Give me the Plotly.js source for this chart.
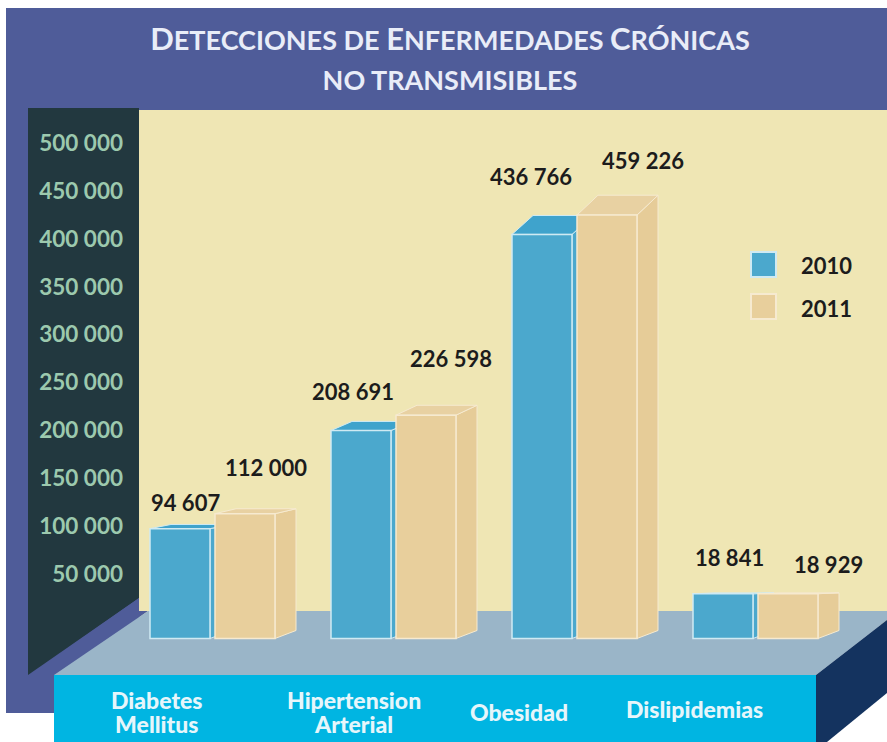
<!DOCTYPE html>
<html><head><meta charset="utf-8">
<script src="https://cdn.plot.ly/plotly-3.0.1.min.js"></script>
<style>html,body{margin:0;padding:0;background:#fff}#c{width:887px;height:742px}</style></head>
<body><div id="c"></div>
<script>
const categories = ["Diabetes Mellitus","Hipertension Arterial","Obesidad","Dislipidemias"];
const categoryLabels = [["Diabetes","Mellitus"],["Hipertension","Arterial"],["Obesidad"],["Dislipidemias"]];
const values2010 = [94607,208691,436766,18841];
const values2011 = [112000,226598,459226,18929];
const labels2010 = ["94 607","208 691","436 766","18 841"];
const labels2011 = ["112 000","226 598","459 226","18 929"];
const axisTicks = [50000,100000,150000,200000,250000,300000,350000,400000,450000,500000];
const axisTickText = ["50 000","100 000","150 000","200 000","250 000","300 000","350 000","400 000","450 000","500 000"];

const W=887,H=742;
const STEP=181, C0=213;             // px of category spacing and first centre
const cat=px=>(px-C0)/STEP;         // px -> category axis units
const xRange=[cat(0),cat(W)];
// printed axis: 500 000 at y=143, 50 000 at y=574
const k1=431/450000, z1=574+50000*k1;
const yRange=[(z1-H)/k1,z1/k1];
// bars follow their own scale, as in the artwork
const k2=0.86/1000, z2=610;
const y2Range=[(z2-H)/k2,z2/k2];
const floorFront=(z2-638.5)/k2;
const floorBack=floorFront+8/k2;
const OFF=[-63,2], BW=60, DX=21;

const PX=(x,y)=>`${x/W} ${1-y/H}`;
const poly=(pts,fill,edge)=>({type:'path',xref:'paper',yref:'paper',layer:'below',
  path:'M'+pts.map(p=>PX(p[0],p[1])).join('L')+'Z',fillcolor:fill,line:edge?{color:edge,width:2}:{width:0}});

const PANEL='#4f5c99';
const bg=[
  poly([[6,8],[887,8],[887,110],[6,110]],PANEL),
  poly([[6,8],[139,8],[139,713],[6,713]],PANEL),
  poly([[139,110],[887,110],[887,625],[139,625]],'#efe6b4'),
  poly([[28,108],[139,108],[139,598],[28,675]],'#22383f'),
  poly([[139,598],[139,611],[148,611],[57,676],[28,676]],PANEL),
  poly([[148,611],[887,611],[887,620],[816,675],[54,675]],'#9ab5c8'),
  poly([[54,675],[816,675],[816,742],[54,742]],'#00b5e2'),
  poly([[816,675],[887,620],[887,693],[827,742],[816,742]],'#14335f'),
  poly([[751,252],[776,252],[776,277],[751,277]],'#4ba8cd','#cfeaf3'),
  poly([[751,294],[776,294],[776,319],[751,319]],'#e8cf9c','#f6ead0')
];

function box3d(i,v,k,sideCol,topCol,edge){
  const x0=cat(C0+STEP*i+OFF[k]), x1=x0+BW/STEP, d=DX/STEP;
  const back=v*1.05+116;
  const dataPoly=(pts,fill)=>({type:'path',xref:'x',yref:'y2',layer:'below',
    path:'M'+pts.map(p=>p[0]+' '+p[1]).join('L')+'Z',fillcolor:fill,line:{color:edge,width:1}});
  return [
    dataPoly([[x1,floorFront],[x1+d,floorBack],[x1+d,back],[x1,v]],sideCol),
    dataPoly([[x0,v],[x0+d,back],[x1+d,back],[x1,v]],topCol)
  ];
}
const boxes=[];
values2010.forEach((v,i)=>boxes.push(...box3d(i,v,0,'#4ba8cd','#3fa3cc','#cfeaf3')));
values2011.forEach((v,i)=>boxes.push(...box3d(i,v,1,'#e6cc98','#e8d1a2','#f6ead0')));

const txt=(x,y,text,size,color,extra)=>Object.assign({xref:'paper',yref:'paper',x:x/W,y:1-y/H,text,
  showarrow:false,xanchor:'center',yanchor:'middle',font:{family:'Lato, sans-serif',size,color,weight:700}},extra||{});
const span=(s,t)=>`<span style="font-size:${s}px">${t}</span>`;

const pos2010=[[185,502],[353,391],[531,176],[729,557]];
const pos2011=[[266,467],[451,358],[643,160],[828,564]];
const catPos=[[157,712],[354,712],[519,712],[694,709]];
const ann=[];
labels2010.forEach((t,i)=>ann.push(txt(pos2010[i][0],pos2010[i][1],t,22,'#1c1c1c')));
labels2011.forEach((t,i)=>ann.push(txt(pos2011[i][0],pos2011[i][1],t,22,'#1c1c1c')));
categoryLabels.forEach((t,i)=>{
  const a=txt(catPos[i][0],catPos[i][1],t.map(s=>span(23,s)).join('<br>'),18.5,'#e6f6fb');
  a.font.weight=900; ann.push(a);
});
ann.push(txt(826,265,'2010',22,'#1c1c1c'));
ann.push(txt(826,308,'2011',22,'#1c1c1c'));

const bars=(vals,k,col,edge,name)=>({type:'bar',name,x:categories,
  y:vals.map(v=>v-floorFront),base:floorFront,xaxis:'x',yaxis:'y2',
  width:BW/STEP,offset:OFF[k]/STEP,marker:{color:col,line:{color:edge,width:1.5}},
  customdata:vals,hovertemplate:'%{x}: %{customdata}<extra>'+name+'</extra>'});
// keeps the printed value axis in the plot: it needs a trace of its own to be drawn
const axisHolder={type:'scatter',mode:'markers',x:[categories[0]],y:[axisTicks[0]],xaxis:'x',yaxis:'y',
  marker:{opacity:0},hoverinfo:'skip',showlegend:false};

const caps=(big,small)=>big+span(27,small);
const titleText=caps('D','ETECCIONES DE ')+caps('E','NFERMEDADES ')+caps('C','RÓNICAS')+'<br>'+span(27,'NO TRANSMISIBLES');

Plotly.newPlot('c',[axisHolder,bars(values2010,0,'#4ba8cd','#cfeaf3','2010'),bars(values2011,1,'#e8cf9c','#f6ead0','2011')],{
  width:W,height:H,margin:{l:0,r:0,t:0,b:0,pad:0},autosize:false,
  paper_bgcolor:'#ffffff',plot_bgcolor:'rgba(0,0,0,0)',showlegend:false,barmode:'overlay',
  title:{text:titleText,x:450/W,xanchor:'center',y:1-50/H,yanchor:'top',font:{family:'Lato, sans-serif',size:31,color:'#e9edf8',weight:700}},
  xaxis:{type:'category',categoryorder:'array',categoryarray:categories,range:xRange,visible:false,domain:[0,1]},
  yaxis:{range:yRange,domain:[0,1],anchor:'free',position:123/W,side:'left',tickmode:'array',tickvals:axisTicks,ticktext:axisTickText,
    tickfont:{family:'Lato, sans-serif',size:22.5,color:'#9cc9ae',weight:700},showgrid:false,zeroline:false,showline:false,ticks:''},
  yaxis2:{range:y2Range,overlaying:'y',visible:false},
  shapes:bg.concat(boxes),annotations:ann
},{displayModeBar:false});
</script></body></html>
